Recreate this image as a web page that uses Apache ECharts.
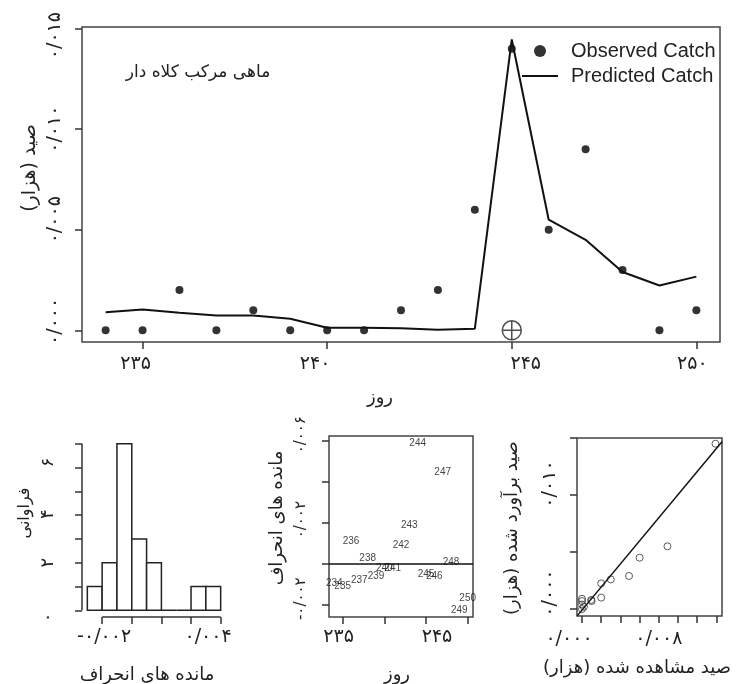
<!DOCTYPE html>
<html>
<head>
<meta charset="utf-8">
<script src="https://cdn.jsdelivr.net/npm/echarts@6/dist/echarts.min.js"></script>
<style>
html, body { margin: 0; padding: 0; background: #fff; }
#main { width: 736px; height: 684px; }
</style>
</head>
<body>
<div id="main"></div>
<script>
// main plot: observed and predicted catch by day
var days = [234, 235, 236, 237, 238, 239, 240, 241, 242, 243, 244, 245, 246, 247, 248, 249, 250];
var observed = [0, 0, 0.002, 0, 0.001, 0, 0, 0, 0.001, 0.002, 0.006, 0.014, 0.005, 0.009, 0.003, 0, 0.001];
var predicted = [0.0009, 0.00104, 0.00088, 0.00074, 0.00074, 0.00058, 0.00013, 0.00013, 0.0001, 0.00003, 0.00008, 0.01446, 0.0055, 0.0045, 0.0029, 0.00223, 0.00267];
var markerPoint = [245, 0];
var dayTicks = [235, 240, 245, 250];
var dayLabels = ['۲۳۵', '۲۴۰', '۲۴۵', '۲۵۰'];
var catchTicks = [0, 0.005, 0.01, 0.015];
var catchLabels = ['۰/۰۰۰', '۰/۰۰۵', '۰/۰۱۰', '۰/۰۱۵'];

// residuals by day
var residuals = [-0.00094, -0.0011, 0.00109, -0.0008, 0.00025, -0.0006, -0.0002, -0.0002, 0.00089, 0.0019, 0.0059, -0.0005, -0.0006, 0.00444, 0.00005, -0.00227, -0.0017];
var residTicks = [-0.002, 0, 0.002, 0.004, 0.006];
var residLabelVals = [-0.002, 0.002, 0.006];
var residLabels = ['-۰/۰۰۲', '۰/۰۰۲', '۰/۰۰۶'];
var residDayLabelVals = [235, 245];
var residDayLabels = ['۲۳۵', '۲۴۵'];

// histogram of residuals
var histBreaks = [-0.003, -0.002, -0.001, 0, 0.001, 0.002, 0.003, 0.004, 0.005, 0.006];
var histCounts = [1, 2, 7, 3, 2, 0, 0, 1, 1];
var histXTicks = [-0.002, 0, 0.002, 0.004, 0.006];
var histXLabelVals = [-0.002, 0.004];
var histXLabels = ['-۰/۰۰۲', '۰/۰۰۴'];
var histYTicks = [0, 1, 2, 3, 4, 5, 6, 7];
var histYLabelVals = [0, 2, 4, 6];
var histYLabels = ['۰', '۲', '۴', '۶'];

// observed vs predicted
var scatterObs = [0.0139, 0.0089, 0.006, 0.0049, 0.003, 0.002, 0.002, 0.00095, 0.001, 0, 0, 0, 0.0002, 0];
var scatterPred = [0.0145, 0.0055, 0.0045, 0.0029, 0.0026, 0.00225, 0.001, 0.0008, 0.0007, 0.0009, 0.0007, 0.0004, 0.0002, 0];
var fitLine = [[-0.0005, -0.0006], [0.0146, 0.0147]];
var scObsTicks = [0, 0.002, 0.004, 0.006, 0.008, 0.01, 0.012, 0.014];
var scObsLabelVals = [0, 0.008];
var scObsLabels = ['۰/۰۰۰', '۰/۰۰۸'];
var scPredLabelVals = [0, 0.01];
var scPredLabels = ['۰/۰۰۰', '۰/۰۱۰'];

var fa = 'DejaVu Sans';
var ink = '#222';

// labels in the picture sit a few px off their ticks; shift (px) per label
function fmt(vals, labels, shifts) {
    return function (v) {
        for (var i = 0; i < vals.length; i++) {
            if (Math.abs(vals[i] - v) < 1e-9) {
                var s = shifts ? shifts[i] : 0;
                if (s > 0) return '{r' + s + '|' + labels[i] + '}';
                if (s < 0) return '{l' + (-s) + '|' + labels[i] + '}';
                return labels[i];
            }
        }
        return '';
    };
}
function richFor(shifts, size) {
    var r = {};
    (shifts || []).forEach(function (s) {
        if (s > 0) r['r' + s] = { padding: [0, 0, 0, 2 * s], fontFamily: fa, fontSize: size, color: ink };
        if (s < 0) r['l' + (-s)] = { padding: [0, -2 * s, 0, 0], fontFamily: fa, fontSize: size, color: ink };
    });
    return r;
}
function pairs(xs, ys) {
    return xs.map(function (x, i) { return [x, ys[i]]; });
}
function valAxis(idx, min, max, ticks, labelVals, labels, shifts, size, extra) {
    var a = {
        type: 'value', gridIndex: idx, min: min, max: max,
        splitLine: { show: false },
        axisLine: { show: false, onZero: false },
        axisTick: { show: true, length: 7, customValues: ticks, lineStyle: { color: '#333', width: 1.5 } },
        axisLabel: {
            customValues: labelVals, formatter: fmt(labelVals, labels, shifts),
            rich: richFor(shifts, size), color: ink, fontFamily: fa, fontSize: size
        }
    };
    Object.assign(a.axisLabel, extra || {});
    return a;
}
function title(text, x, y, rot, size) {
    return {
        type: 'text', x: x, y: y, rotation: rot ? Math.PI / 2 : 0,
        style: { text: text, fill: ink, font: (size || 17) + 'px "DejaVu Sans"', align: 'center', verticalAlign: 'middle' }
    };
}

var myChart = echarts.init(document.getElementById('main'));
var option = {
    animation: false,
    backgroundColor: '#fff',
    grid: [
        { left: 82, top: 27, width: 638, height: 315, show: true, borderColor: '#444', borderWidth: 1.5 },
        { left: 82, top: 437, width: 144, height: 180, show: false },
        { left: 329, top: 436, width: 144, height: 181, show: true, borderColor: '#444', borderWidth: 1.5 },
        { left: 577, top: 438, width: 145, height: 178, show: true, borderColor: '#444', borderWidth: 1.5 }
    ],
    xAxis: [
        valAxis(0, 233.36, 250.64, dayTicks, dayTicks, dayLabels, [-7, -12, 14, -4], 19, { margin: 13 }),
        valAxis(1, -0.00336, 0.00636, histXTicks, histXLabelVals, histXLabels, [2, 17], 19, { margin: 11 }),
        valAxis(2, 233.36, 250.64, dayTicks, residDayLabelVals, residDayLabels, [-4, 11], 19, { margin: 11 }),
        valAxis(3, -0.00052, 0.01458, scObsTicks, scObsLabelVals, scObsLabels, [-13, 0], 19, { margin: 14 })
    ],
    yAxis: [
        valAxis(0, -0.00058, 0.01508, catchTicks, catchTicks, catchLabels, [9, 10, 0, -7], 19, { rotate: 90, margin: 17 }),
        valAxis(1, -0.28, 7.28, histYTicks, histYLabelVals, histYLabels, [-7, 0, 1, 5], 18, { rotate: 90, margin: 25 }),
        valAxis(2, -0.0026, 0.00623, residTicks, residLabelVals, residLabels, [6, 3, 6], 15, { rotate: 90, margin: 20 }),
        valAxis(3, -0.00061, 0.015, catchTicks, scPredLabelVals, scPredLabels, [16, 11], 19, { rotate: 90, margin: 17 })
    ],
    legend: {
        left: 517, top: 36, orient: 'vertical',
        itemWidth: 36, itemHeight: 12, itemGap: 5,
        textStyle: { fontFamily: 'Liberation Sans', fontSize: 20, color: ink, padding: [0, 0, 0, 8] },
        data: [
            { name: 'Observed Catch', icon: 'circle' },
            { name: 'Predicted Catch', icon: 'path://M0,0 L36,0 L36,2 L0,2 Z' }
        ]
    },
    graphic: [
        title('ماهی مرکب کلاه دار', 198, 73, false, 17),
        title('صید (هزار)', 30, 168, true, 19),
        title('روز', 380, 398, false, 18),
        title('فراوانی', 25, 513, true, 16),
        title('مانده های انحراف', 147, 675, false, 18),
        title('مانده های انحراف', 277, 518, true, 18),
        title('روز', 397, 675, false, 18),
        title('صید برآورد شده (هزار)', 512, 528, true, 18),
        title('صید مشاهده شده (هزار)', 637, 668, false, 18)
    ],
    series: [
        {
            name: 'Observed Catch', type: 'scatter', xAxisIndex: 0, yAxisIndex: 0,
            symbolSize: 8, itemStyle: { color: '#000' },
            data: pairs(days, observed)
        },
        {
            name: 'Predicted Catch', type: 'line', xAxisIndex: 0, yAxisIndex: 0,
            symbol: 'none', lineStyle: { color: '#111', width: 2 }, itemStyle: { color: '#111' },
            data: pairs(days, predicted)
        },
        {
            type: 'scatter', xAxisIndex: 0, yAxisIndex: 0,
            symbol: 'path://M10,0 A10,10 0 1,1 10,20 A10,10 0 1,1 10,0 Z M0,10 L20,10 M10,0 L10,20',
            symbolSize: 19,
            itemStyle: { color: 'rgba(0,0,0,0)', borderColor: '#222', borderWidth: 1.5 },
            data: [markerPoint]
        },
        {
            type: 'custom', xAxisIndex: 1, yAxisIndex: 1,
            renderItem: function (params, api) {
                var p0 = api.coord([api.value(0), api.value(2)]);
                var p1 = api.coord([api.value(1), 0]);
                return {
                    type: 'rect',
                    shape: { x: p0[0], y: p0[1], width: p1[0] - p0[0], height: p1[1] - p0[1] },
                    style: { fill: '#fff', stroke: '#222', lineWidth: 1.5 }
                };
            },
            data: histCounts.map(function (c, i) { return [histBreaks[i], histBreaks[i + 1], c]; })
        },
        {
            // R-style axis lines spanning the tick range
            type: 'line', xAxisIndex: 1, yAxisIndex: 1, symbol: 'none', clip: false,
            lineStyle: { color: '#333', width: 1.5 },
            data: [[-0.00336, histYTicks[0]], [-0.00336, histYTicks[histYTicks.length - 1]]]
        },
        {
            type: 'line', xAxisIndex: 1, yAxisIndex: 1, symbol: 'none', clip: false,
            lineStyle: { color: '#333', width: 1.5 },
            data: [[histXTicks[0], -0.28], [histXTicks[histXTicks.length - 1], -0.28]]
        },
        {
            type: 'scatter', xAxisIndex: 2, yAxisIndex: 2,
            symbolSize: 1, itemStyle: { color: 'rgba(0,0,0,0)' },
            label: {
                show: true, position: 'inside', color: '#111', fontSize: 10, fontFamily: 'Liberation Sans',
                formatter: function (p) { return String(p.value[0]); }
            },
            data: pairs(days, residuals),
            markLine: {
                silent: true, symbol: 'none', label: { show: false },
                lineStyle: { color: '#111', width: 1.5, type: 'solid' },
                data: [{ yAxis: 0 }]
            }
        },
        {
            type: 'scatter', xAxisIndex: 3, yAxisIndex: 3,
            symbolSize: 7,
            itemStyle: { color: 'rgba(0,0,0,0)', borderColor: '#333', borderWidth: 1 },
            data: pairs(scatterObs, scatterPred)
        },
        {
            type: 'line', xAxisIndex: 3, yAxisIndex: 3, symbol: 'none',
            lineStyle: { color: '#111', width: 1.5 },
            data: fitLine
        }
    ]
};
myChart.setOption(option);
</script>
</body>
</html>
